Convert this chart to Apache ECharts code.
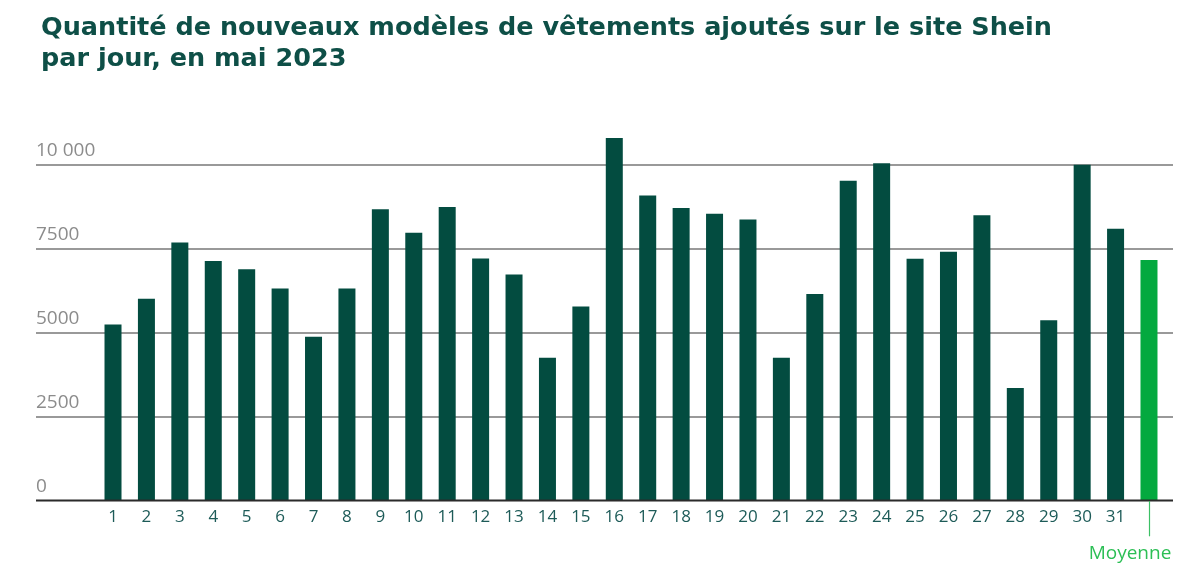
<!DOCTYPE html>
<html lang="fr">
<head>
    <meta charset="UTF-8" />
    <title>Shein - nouveaux modèles par jour</title>
    <style>
      html, body { margin: 0; padding: 0; background: #fff; }
    </style>
</head>
<body>
<div id="main" style="width: 1200px; height: 587px"></div>
<script src="https://cdn.jsdelivr.net/npm/echarts@6.0.0/dist/echarts.min.js"></script>
<script>
  // jours du mois + la moyenne
  var days = ["1", "2", "3", "4", "5", "6", "7", "8", "9", "10", "11", "12", "13", "14", "15", "16",
    "17", "18", "19", "20", "21", "22", "23", "24", "25", "26", "27", "28", "29", "30", "31", "Moyenne"];
  // nombre de nouveaux modèles par jour
  var dailyCounts = [5230, 6000, 7670, 7120, 6880, 6300, 4870, 6300, 8660, 7960,
    8730, 7200, 6720, 4240, 5770, 10780, 9070, 8700, 8530, 8360,
    4240, 6140, 9510, 10030, 7190, 7400, 8480, 3340, 5360, 9990, 8080];
  var average = 7150;
  var yTicks = [0, 2500, 5000, 7500, 10000];

  var darkGreen = "#034c40";
  var lightGreen = "#04a93f";

  var myChart = echarts.init(document.getElementById("main"));

  // les barres : jours en vert foncé, moyenne en vert clair
  var barData = dailyCounts.map(function (v) {
    return { value: v, itemStyle: { color: darkGreen } };
  });
  barData.push({ value: average, itemStyle: { color: lightGreen } });

  var option = {
    animation: false,
    title: {
      text: "Quantité de nouveaux modèles de vêtements ajoutés sur le site Shein\npar jour, en mai 2023",
      left: 36,
      top: 8,
      textStyle: {
        fontFamily: "DejaVu Sans",
        fontWeight: "bold",
        fontSize: 25.5,
        lineHeight: 31,
        color: "#0e4f47",
      },
    },
    // grid 0 : lignes horizontales sur toute la largeur, grid 1 : les barres
    grid: [
      { left: 36, right: 27, top: 164.3, bottom: 86.7 },
      { left: 96.3, right: 34.3, top: 164.3, bottom: 86.7 },
    ],
    xAxis: [
      {
        gridIndex: 0,
        type: "value",
        min: 0,
        max: 1,
        show: false,
      },
      {
        gridIndex: 1,
        type: "category",
        data: days,
        axisLine: { show: false },
        axisTick: {
          show: true,
          alignWithLabel: true,
          length: 36,
          interval: function (i) { return i === days.length - 1; },
          lineStyle: { color: "#3cc065", width: 1.2 },
        },
        axisLabel: {
          interval: 0,
          margin: 8,
          fontFamily: "Open Sans",
          fontSize: 17,
          color: "#1d5b58",
          formatter: function (v) {
            return v === "Moyenne" ? "{m|" + v + "}" : v;
          },
          rich: {
            m: {
              fontFamily: "Open Sans",
              fontSize: 19,
              color: "#2cbf55",
              padding: [36, 38, 0, 0],
            },
          },
        },
      },
    ],
    yAxis: [
      {
        gridIndex: 0,
        type: "value",
        min: 0,
        max: 10000,
        interval: 2500,
        axisLine: { show: false },
        axisTick: { show: false },
        axisLabel: {
          inside: true,
          margin: 0,
          verticalAlign: "bottom",
          padding: [0, 0, 4, 0],
          fontFamily: "Open Sans",
          fontSize: 19,
          color: "#8c8c8c",
          customValues: yTicks,
          formatter: function (v) {
            return v === 10000 ? "10 000" : String(v);
          },
        },
        splitLine: {
          show: true,
          lineStyle: {
            color: "#777777",
            width: 1.6,
          },
        },
      },
      {
        gridIndex: 1,
        type: "value",
        min: 0,
        max: 10000,
        interval: 2500,
        show: false,
        splitLine: { show: false },
      },
    ],
    series: [
      {
        // ligne de base plus foncée
        type: "line",
        xAxisIndex: 0,
        yAxisIndex: 0,
        data: [[0, 0], [1, 0]],
        symbol: "none",
        lineStyle: { color: "#2b2b2b", width: 1.8 },
        silent: true,
        z: 3,
      },
      {
        type: "bar",
        xAxisIndex: 1,
        yAxisIndex: 1,
        data: barData,
        barWidth: 17,
        clip: false,
        z: 2,
      },
    ],
  };
  myChart.setOption(option);
</script>
</body>
</html>
